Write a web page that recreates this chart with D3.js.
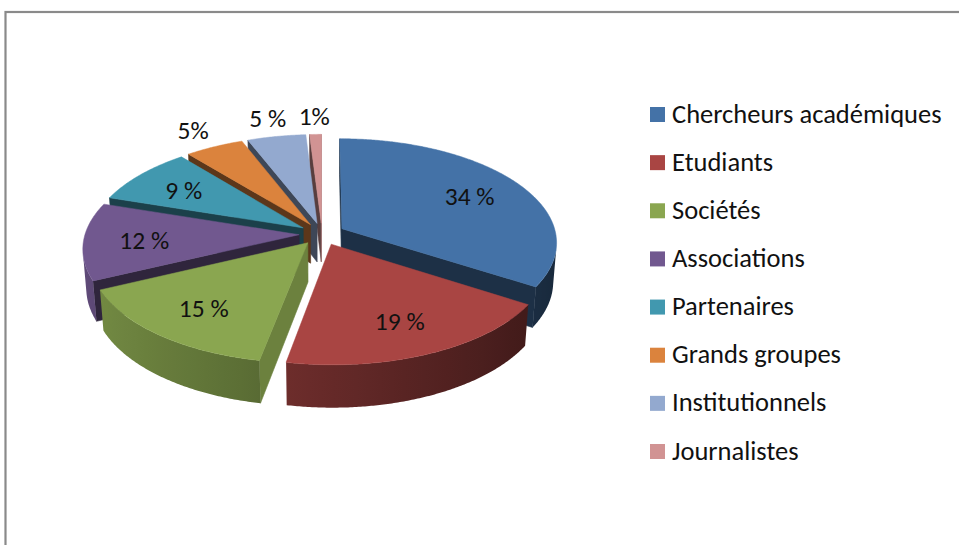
<!DOCTYPE html>
<html>
<head>
<meta charset="utf-8">
<script src="https://cdn.jsdelivr.net/npm/d3@7"></script>
<style>
  html, body { margin: 0; padding: 0; background: #ffffff; }
  svg { display: block; }
</style>
</head>
<body>
<svg id="chart" width="959" height="545"></svg>
<script>
// ---- data ----
const categories = ["Chercheurs académiques", "Etudiants", "Sociétés", "Associations",
                    "Partenaires", "Grands groupes", "Institutionnels", "Journalistes"];
const values = [34, 19, 15, 12, 9, 5, 5, 1];
const valueLabels = ["34 %", "19 %", "15 %", "12 %", "9 %", "5%", "5 %", "1%"];
const colors = ["#4472A7", "#A94543", "#8AA650", "#71588F", "#4198AF", "#DB833D", "#93A9CF", "#D19393"];

// ---- layout / camera ----
const W = 959, H = 545;
const cx = 322, cy = 234, F = 214;     // screen centre of the top face, radius scale
const tilt = 0.5;                       // elevation angle (rad)
const S = Math.sin(tilt), C = Math.cos(tilt);
const Dn = 6.95;                        // camera distance (in radii)
const thick = 0.21;                     // slab thickness (in radii)
const explode = 0.107;                  // explosion offset (in radii)

const svg = d3.select("#chart");
const defs = svg.append("defs");

// frame
svg.append("rect")
  .attr("x", 5.5).attr("y", 12)
  .attr("width", W + 20).attr("height", H + 20)
  .attr("fill", "none").attr("stroke", "#8a8a8a").attr("stroke-width", 2.2);

const xS = d3.scaleLinear().domain([0, 1]).range([cx, cx + F]);
const yS = d3.scaleLinear().domain([0, 1]).range([cy, cy + F]);

function proj(u, v, w) {
  const z = (Dn - v * C - w * S) / Dn;
  return [xS(u / z), yS((v * S - w * C) / z)];
}
const cam = [0, Dn * C, Dn * S];
function dir(a) { return [Math.sin(a), -Math.cos(a)]; }
function shadeColor(col, k) {
  const c = d3.rgb(col);
  return d3.rgb(c.r * k, c.g * k, c.b * k).formatHex();
}
const line = d3.line().curve(d3.curveLinearClosed);

const pie = d3.pie().sort(null).startAngle(0).endAngle(2 * Math.PI)
  .value((d, i) => values[i]);
const arcs = pie(categories);

const slices = arcs.map((a, i) => {
  const mid = (a.startAngle + a.endAngle) / 2;
  const d = dir(mid);
  const o = [d[0] * explode, d[1] * explode];
  return { i, a0: a.startAngle, a1: a.endAngle, mid, o, depth: o[1] + 0.5 * d[1] };
});
slices.sort((p, q) => p.depth - q.depth);

const gPie = svg.append("g");
const zTop = 0, zBot = -thick;

slices.forEach(s => {
  const g = gPie.append("g");
  const col = colors[s.i];
  const [ou, ov] = s.o;
  const vis = (n, P) => n[0] * (cam[0] - P[0]) + n[1] * (cam[1] - P[1]) > 0;

  // radial faces
  [[s.a0, -1], [s.a1, 1]].forEach(([ang, sign]) => {
    const n = [sign * Math.cos(ang), sign * Math.sin(ang)];
    if (!vis(n, [ou, ov])) return;
    const d = dir(ang);
    const pts = [proj(ou, ov, zTop), proj(ou + d[0], ov + d[1], zTop),
                 proj(ou + d[0], ov + d[1], zBot), proj(ou, ov, zBot)];
    const k = n[0] > 0.8 ? 0.78 : 0.42;
    const fc = shadeColor(col, k);
    g.append("path").attr("d", line(pts)).attr("fill", fc)
      .attr("stroke", fc).attr("stroke-width", 0.6);
  });

  // outer side: visible angle range, one path with a horizontal gradient
  const nSteps = Math.max(4, Math.ceil((s.a1 - s.a0) / (Math.PI / 360)));
  const visAng = [];
  for (let k = 0; k <= nSteps; k++) {
    const t = s.a0 + (s.a1 - s.a0) * k / nSteps;
    const n = dir(t);
    if (vis(n, [ou + n[0], ov + n[1]])) visAng.push(t);
  }
  if (visAng.length > 1) {
    const topPts = visAng.map(t => { const d = dir(t); return proj(ou + d[0], ov + d[1], zTop); });
    const botPts = visAng.map(t => { const d = dir(t); return proj(ou + d[0], ov + d[1], zBot); }).reverse();
    const xs = topPts.map(p => p[0]);
    const x0 = d3.min(xs), x1 = d3.max(xs);
    const gid = "side" + s.i;
    const grad = defs.append("linearGradient").attr("id", gid)
      .attr("gradientUnits", "userSpaceOnUse")
      .attr("x1", x0).attr("y1", 0).attr("x2", x1 + 0.01).attr("y2", 0);
    const stops = visAng.map((t, j) => ({ x: topPts[j][0], k: 0.6 - 0.25 * dir(t)[0] }))
      .sort((a, b) => a.x - b.x);
    const every = Math.max(1, Math.floor(stops.length / 12));
    stops.forEach((st, j) => {
      if (j % every !== 0 && j !== stops.length - 1) return;
      grad.append("stop")
        .attr("offset", x1 > x0 ? (st.x - x0) / (x1 - x0) : 0)
        .attr("stop-color", shadeColor(col, st.k));
    });
    g.append("path").attr("d", line(topPts.concat(botPts)))
      .attr("fill", `url(#${gid})`);
  }

  // top face
  const tp = [proj(ou, ov, zTop)];
  for (let k = 0; k <= nSteps; k++) {
    const t = s.a0 + (s.a1 - s.a0) * k / nSteps;
    const d = dir(t);
    tp.push(proj(ou + d[0], ov + d[1], zTop));
  }
  g.append("path").attr("d", line(tp)).attr("fill", col)
    .attr("stroke", col).attr("stroke-width", 0.5);
});

// labels
const labelFont = "Carlito, Lato, 'Open Sans', sans-serif";
arcs.forEach((a, i) => {
  const mid = (a.startAngle + a.endAngle) / 2;
  const d = dir(mid);
  const r = values[i] >= 9 ? 0.72 : 1.25;
  const p = proj(d[0] * (explode + r), d[1] * (explode + r), zTop);
  svg.append("text")
    .attr("x", p[0]).attr("y", p[1]).attr("dy", "0.38em")
    .attr("text-anchor", "middle")
    .attr("font-family", labelFont).attr("font-size", 25.5)
    .attr("fill", "#111").text(valueLabels[i]);
});

// legend
const legY = d3.scalePoint().domain(categories).range([113, 450]);
const leg = svg.append("g");
categories.forEach((c, i) => {
  const y = legY(c);
  leg.append("rect").attr("x", 650).attr("y", y - 6).attr("width", 15).attr("height", 15)
    .attr("fill", colors[i]);
  leg.append("text").attr("x", 672).attr("y", y).attr("dy", "0.36em")
    .attr("font-family", labelFont).attr("font-size", 26.5)
    .attr("fill", "#111").text(c);
});
</script>
</body>
</html>
